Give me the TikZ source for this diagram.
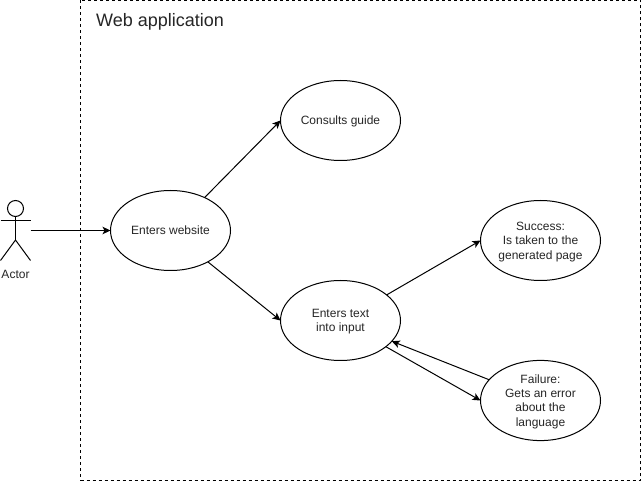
\documentclass[tikz,border=0pt]{standalone}
\usepackage{fontspec}
\setmainfont{Liberation Sans}
\usetikzlibrary{shapes.geometric,arrows.meta}
\newcommand{\tstrut}{\rule{0pt}{11pt}}
\tikzset{
  usecase/.style={draw=black,fill=white,ellipse,line width=1pt,minimum width=120pt,minimum height=80pt,inner sep=0pt,outer sep=0pt,align=center,font=\fontsize{12}{14.4}\selectfont,text=black!85},
  conn/.style={draw=black,line width=1pt,-{Stealth[length=8pt,width=7.5pt,inset=2pt]}},
  limb/.style={draw=black,line width=1pt},
  framebox/.style={draw=black,line width=1pt,dash pattern=on 3pt off 3pt}
}
\begin{document}
\begin{tikzpicture}[x=1pt,y=-1pt]
\useasboundingbox (0,0) rectangle (641,481);
\fill[white] (0,0) rectangle (641,481);
\draw[framebox] (80.5,0.5) rectangle (640.5,480.5);
\node[anchor=west,font=\fontsize{18}{22}\selectfont,text=black!85,inner sep=0pt] (title) at (96,21.5) {Web application};

\node[usecase] (web) at (170.5,230.5) {Enters website};
\node[usecase] (guide) at (340.5,120.5) {\tstrut Consults guide};
\node[usecase] (input) at (340.5,320.5) {\tstrut Enters text\\into input};
\node[usecase] (success) at (540.5,240.5) {\tstrut Success:\\Is taken to the\\generated page};
\node[usecase] (failure) at (540.5,400.5) {\tstrut Failure:\\Gets an error\\about the\\language};

\node[draw=black,fill=white,circle,line width=1pt,minimum size=16pt,inner sep=0pt,outer sep=0pt] (head) at (15.5,208.5) {};
\coordinate (hip) at (15.5,240);
\coordinate (handL) at (0.5,220.5);
\coordinate (handR) at (30.5,220.5);
\coordinate (footL) at (0.5,260.5);
\coordinate (footR) at (30.5,260.5);
\coordinate (actorout) at (30.5,230.5);
\draw[limb] (head.south) -- (hip);
\draw[limb] (handL) -- (handR);
\draw[limb] (footL) -- (hip) -- (footR);
\node[font=\fontsize{12}{15}\selectfont,text=black!85,inner sep=0pt] (actorlabel) at (15.5,274.5) {Actor};

\draw[conn] (actorout) -- (web.west |- actorout);
\draw[conn] (web.44) -- (guide.west);
\draw[conn] (web.-40) -- (input.west);
\draw[conn] (input.29) -- (success.west);
\draw[conn] (input.-30) -- (failure.west);
\draw[conn] (failure.158) -- (input.-22);
\end{tikzpicture}
\end{document}
